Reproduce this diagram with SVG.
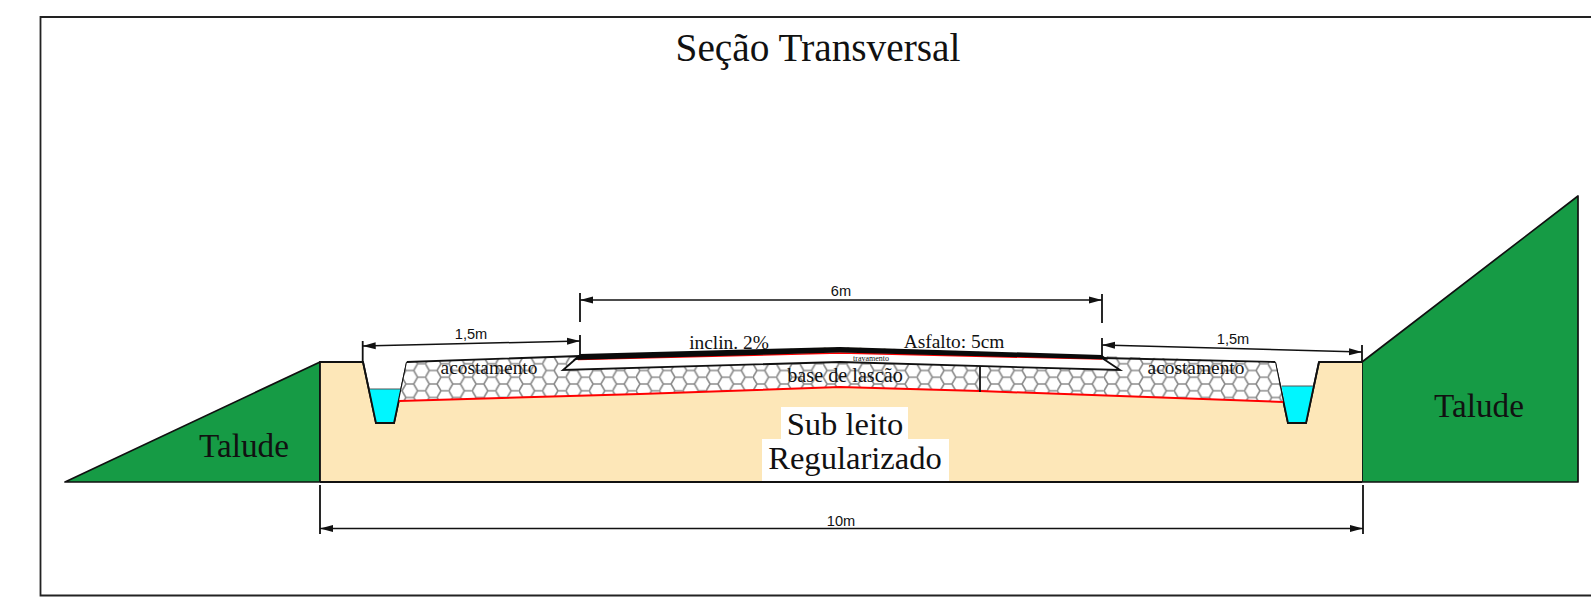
<svg xmlns="http://www.w3.org/2000/svg" width="1591" height="607" viewBox="0 0 1591 607">
<style>
.s{font-family:"Liberation Serif","Times New Roman",serif;fill:#111;text-anchor:middle}
.a{font-family:"Liberation Sans",Arial,sans-serif;font-size:14.6px;fill:#111;text-anchor:middle}
.ln{stroke:#111;stroke-width:1.8;fill:none}
.dim{stroke:#111;stroke-width:1.5;fill:none;marker-start:url(#as);marker-end:url(#ae)}
.tk{stroke:#111;stroke-width:1.8;fill:none}
.g{fill:#169b45;stroke:#111;stroke-width:1.7;stroke-linejoin:round}
</style>
<defs>
<marker id="ae" markerUnits="userSpaceOnUse" markerWidth="14" markerHeight="8" refX="13" refY="4" orient="auto"><path d="M0 0.5L13 4L0 7.5Z" fill="#111"/></marker>
<marker id="as" markerUnits="userSpaceOnUse" markerWidth="14" markerHeight="8" refX="1" refY="4" orient="auto"><path d="M14 0.5L1 4L14 7.5Z" fill="#111"/></marker>
<pattern id="hex" patternUnits="userSpaceOnUse" width="23.4" height="13.5" x="402" y="357">
<rect width="23.4" height="13.5" fill="#fff"/>
<path d="M0 6.75L3.9 0H11.7L15.6 6.75L11.7 13.5H3.9ZM15.6 6.75H23.4" fill="none" stroke="#8a8a8a" stroke-width="1.6"/>
</pattern>
</defs>
<rect width="1591" height="607" fill="#fff"/>
<path id="frame" d="M1591 17H40.5V595.5H1591" fill="none" stroke="#222" stroke-width="1.8"/>
<text id="title" class="s" x="818" y="61" font-size="39.3">Seção Transversal</text>
<g id="talude-esquerdo"><path class="g" d="M65 482L320 362V482Z"/><text class="s" x="244" y="457" font-size="33.2">Talude</text></g>
<g id="talude-direito"><path class="g" d="M1362 362L1578 196V482H1362Z"/><text class="s" x="1479" y="417" font-size="33.2">Talude</text></g>
<g id="subleito">
<path d="M320 362H363L376 423H394L407 362L580 357L840 347L1102 357L1275 362L1288 423H1306L1319 362H1362V482H320Z" fill="#fde7b8"/>
<path class="ln" d="M320 482V362H363L376 423H394L407 362"/>
<path class="ln" d="M1275 362L1288 423H1306L1319 362H1362"/>
<path class="ln" d="M320 482H1362"/>
<rect x="781" y="407" width="127" height="33" fill="#fff"/>
<rect x="762" y="439" width="187" height="42" fill="#fff"/>
<text class="s" x="845" y="435" font-size="32.6">Sub leito</text>
<text class="s" x="855" y="469" font-size="32.6">Regularizado</text>
</g>
<g id="vala-esquerda"><path d="M369.5 389H400.5L394 423H376Z" fill="#00f6ff"/><path d="M369.5 389H400.5" stroke="#555" stroke-width="1"/><path class="ln" d="M363 362L376 423H394L407 362"/></g>
<g id="vala-direita"><path d="M1281.5 386H1313L1306 423H1288Z" fill="#00f6ff"/><path d="M1281.5 386H1313" stroke="#555" stroke-width="1"/><path class="ln" d="M1275 362L1288 423H1306L1319 362"/></g>
<g id="base">
<path d="M407 362L580 356L840 347L1102 356L1275 362L1283 402L1120 396L980 391L840 387L640 394L399 401Z" fill="url(#hex)"/>
<path d="M399 401L640 394L840 387L980 391L1283 402" fill="none" stroke="#f00" stroke-width="2"/>
<path class="ln" d="M407 362L580 356M1102 358L1275 362"/>
<path class="ln" d="M980 364V392M1071 359V368"/>
</g>
<g id="travamento">
<path d="M563 370L578 357L840 351L1102 358L1120 370L840 362Z" fill="#fff"/>
<path class="ln" d="M578 357L563 370L840 362L1120 370L1102 358"/>
<path d="M578 359.5L840 353L1102 359" fill="none" stroke="#f00" stroke-width="1.6"/>
<text class="s" x="871" y="361" font-size="8">travamento</text>
</g>
<g id="asfalto"><path d="M573 360L580 354L840 347L1102 355L1108 359.5L840 352.5Z" fill="#0a0a0a"/></g>
<g id="labels">
<text class="s" x="729" y="349" font-size="19.4">inclin. 2%</text>
<text class="s" x="954" y="348" font-size="19.4">Asfalto: 5cm</text>
<text class="s" x="489" y="374" font-size="19.4">acostamento</text>
<text class="s" x="1196" y="374" font-size="19.4">acostamento</text>
<text class="s" x="845" y="382" font-size="20.2">base de lascão</text>
</g>
<g id="connectors">
<path class="tk" d="M580 293V322M1102 294V323M580 335V356M1102 338V356M362.7 341V362M1362 345V362M320 485V534M1363 485V534"/>
<path class="dim" d="M580 300H1102"/>
<path class="dim" d="M362.7 346L580 341"/>
<path class="dim" d="M1102 345L1362 352"/>
<path class="dim" d="M320 528.5H1363"/>
<text class="a" x="841" y="296">6m</text>
<text class="a" x="471" y="339">1,5m</text>
<text class="a" x="1233" y="344">1,5m</text>
<text class="a" x="841" y="526">10m</text>
</g>
</svg>
